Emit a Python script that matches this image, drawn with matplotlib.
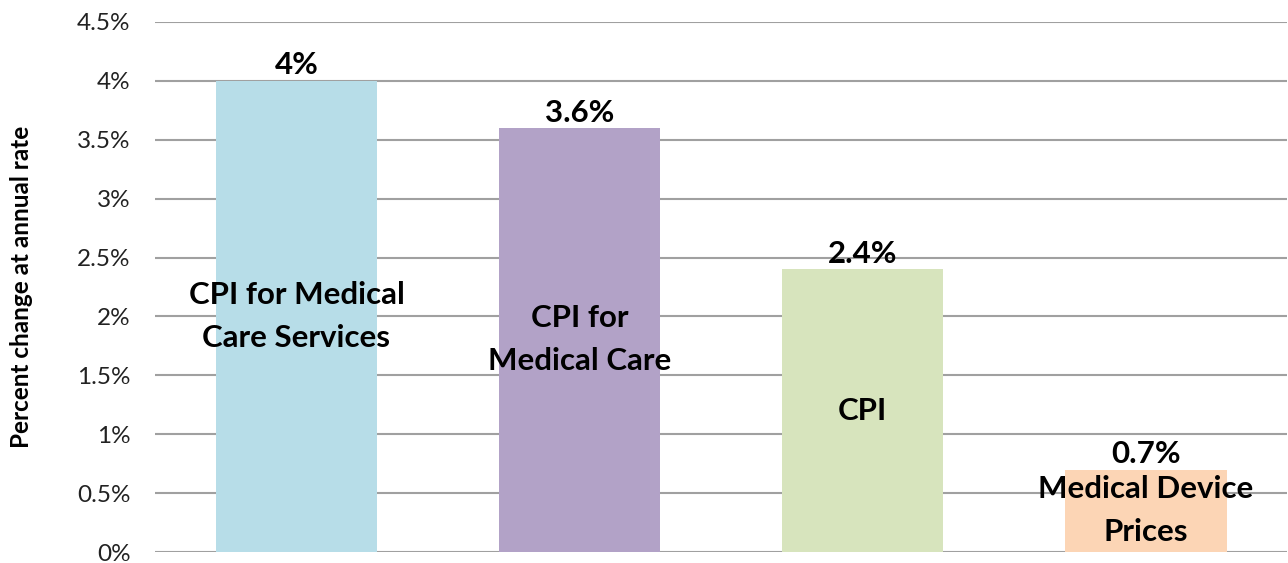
import matplotlib
matplotlib.use("Agg")
import matplotlib.pyplot as plt
from matplotlib.ticker import FuncFormatter

plt.rcParams['font.family'] = ['Lato', 'DejaVu Sans']

# data
categories = ["CPI for Medical\nCare Services", "CPI for\nMedical Care", "CPI",
              "Medical Device\nPrices"]
values = [4.0, 3.6, 2.4, 0.7]
value_labels = ["4%", "3.6%", "2.4%", "0.7%"]
colors = ["#b7dde8", "#b2a2c7", "#d7e4bd", "#fcd5b5"]
yticks = [0, 0.5, 1, 1.5, 2, 2.5, 3, 3.5, 4, 4.5]

fig = plt.figure(figsize=(12.88, 5.63), dpi=100)
ax = fig.add_axes([0.1203, 0.0195, 0.879, 0.9416])

x = range(len(categories))
ax.bar(x, values, width=0.572, color=colors, zorder=2)

for i, (v, lab, cat) in enumerate(zip(values, value_labels, categories)):
    ax.annotate(lab, (i, v), xytext=(0, 1), textcoords="offset points",
                ha="center", va="bottom", fontsize=22.5, fontweight="bold", zorder=3)
    ax.text(i, v / 2, cat, ha="center", va="center", fontsize=22.5,
            fontweight="bold", linespacing=1.65, zorder=3)

ax.set_xlim(-0.5, 3.5)
ax.set_ylim(0, 4.5)
ax.set_yticks(yticks)
ax.yaxis.set_major_formatter(FuncFormatter(lambda v, p: f"{v:g}%"))
ax.set_xticks([])
ax.tick_params(axis="y", length=0, pad=17.5, labelsize=17.5, colors="#222222")
ax.yaxis.grid(True, color="#a0a0a0", linewidth=1.5, zorder=0)
for s in ax.spines.values():
    s.set_visible(False)
ax.set_axisbelow(True)

ax.set_ylabel("Percent change at annual rate", fontsize=17.5, fontweight="bold")
ax.yaxis.set_label_coords(-0.108, 0.5)

fig.savefig("out.png", dpi=100)
